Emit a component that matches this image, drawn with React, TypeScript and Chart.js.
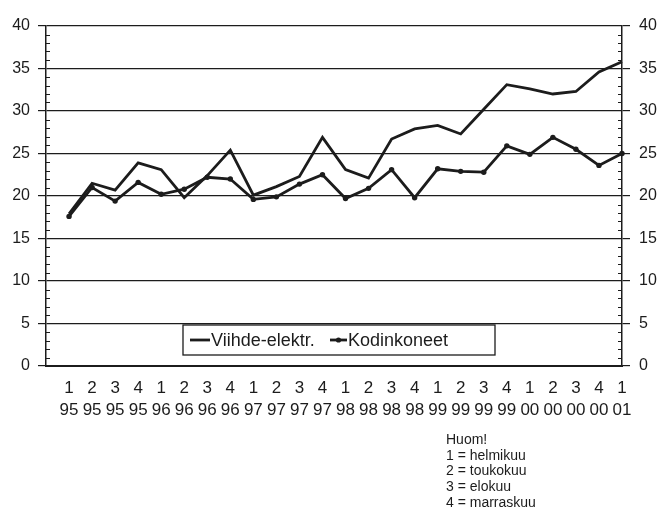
import React, { useEffect, useRef } from "react";
import { Chart, registerables } from "chart.js";

Chart.register(...registerables);

const quarters = ["1", "2", "3", "4", "1", "2", "3", "4", "1", "2", "3", "4", "1", "2", "3", "4", "1", "2", "3", "4", "1", "2", "3", "4", "1"];
const years = ["95", "95", "95", "95", "96", "96", "96", "96", "97", "97", "97", "97", "98", "98", "98", "98", "99", "99", "99", "99", "00", "00", "00", "00", "01"];

const viihde = [17.9, 21.5, 20.7, 23.9, 23.1, 19.8, 22.4, 25.4, 20.1, 21.1, 22.3, 26.9, 23.1, 22.1, 26.7, 27.9, 28.3, 27.3, 30.2, 33.1, 32.6, 32.0, 32.3, 34.6, 35.8];
const kodinkoneet = [17.6, 21.0, 19.4, 21.6, 20.2, 20.8, 22.2, 22.0, 19.6, 19.9, 21.4, 22.5, 19.7, 20.9, 23.1, 19.8, 23.2, 22.9, 22.8, 25.9, 24.9, 26.9, 25.5, 23.6, 25.0];

const yTicks = [0, 5, 10, 15, 20, 25, 30, 35, 40];

const seriesNames = ["Viihde-elektr.", "Kodinkoneet"];
const noteLines = ["Huom!", "1 = helmikuu", "2 = toukokuu", "3 = elokuu", "4 = marraskuu"];

const FONT = "'Liberation Sans', Arial, sans-serif";
const INK = "#1c1c1c";

const minorTicks = {
  id: "minorTicks",
  afterDraw(chart: any) {
    const ctx = chart.ctx;
    const y = chart.scales.y;
    const area = chart.chartArea;
    ctx.save();
    ctx.strokeStyle = INK;
    ctx.lineWidth = 1;
    for (let v = y.min; v <= y.max; v += 1) {
      if (v % 5 === 0) continue;
      const py = Math.round(y.getPixelForValue(v)) + 0.5;
      ctx.beginPath();
      ctx.moveTo(area.left, py);
      ctx.lineTo(area.left + 4, py);
      ctx.moveTo(area.right - 4, py);
      ctx.lineTo(area.right, py);
      ctx.stroke();
    }
    ctx.restore();
  },
};

const boxLegend = {
  id: "boxLegend",
  afterDatasetsDraw(chart: any) {
    const ctx = chart.ctx;
    const area = chart.chartArea;
    const x0 = area.left + 137;
    const y0 = area.top + 299;
    const w = 312;
    const h = 30;
    const cy = y0 + h / 2;
    ctx.save();
    ctx.fillStyle = "#ffffff";
    ctx.fillRect(x0, y0, w, h);
    ctx.strokeStyle = INK;
    ctx.lineWidth = 1.3;
    ctx.strokeRect(x0, y0, w, h);
    ctx.font = `18px ${FONT}`;
    ctx.fillStyle = INK;
    ctx.textBaseline = "middle";
    ctx.textAlign = "left";
    const ds = chart.data.datasets;
    ctx.strokeStyle = ds[0].borderColor;
    ctx.lineWidth = 2.8;
    ctx.beginPath();
    ctx.moveTo(x0 + 7, cy);
    ctx.lineTo(x0 + 27, cy);
    ctx.stroke();
    ctx.fillText(ds[0].label, x0 + 28, cy + 1);
    const x2 = x0 + 147;
    ctx.strokeStyle = ds[1].borderColor;
    ctx.beginPath();
    ctx.moveTo(x2, cy);
    ctx.lineTo(x2 + 17, cy);
    ctx.stroke();
    ctx.beginPath();
    ctx.fillStyle = ds[1].pointBackgroundColor;
    ctx.arc(x2 + 8.5, cy, 2.6, 0, Math.PI * 2);
    ctx.fill();
    ctx.fillStyle = INK;
    ctx.fillText(ds[1].label, x2 + 18, cy + 1);
    ctx.restore();
  },
};

export default function App() {
  const ref = useRef<HTMLCanvasElement | null>(null);

  useEffect(() => {
    if (!ref.current) return;
    const labels = [["", ""], ...quarters.map((q, i) => [q, years[i]])];
    const chart = new Chart(ref.current, {
      type: "line",
      data: {
        labels,
        datasets: [
          {
            label: seriesNames[0],
            data: [null, ...viihde],
            borderColor: INK,
            borderWidth: 2.8,
            pointRadius: 0,
            tension: 0,
            fill: false,
          },
          {
            label: seriesNames[1],
            data: [null, ...kodinkoneet],
            borderColor: INK,
            borderWidth: 2.8,
            pointRadius: 2.7,
            pointBackgroundColor: INK,
            pointBorderWidth: 0,
            tension: 0,
            fill: false,
          },
        ] as any,
      },
      options: {
        responsive: false,
        maintainAspectRatio: false,
        animation: false,
        layout: { padding: { top: 26, left: 0, right: 0, bottom: 0 } },
        plugins: { legend: { display: false }, tooltip: { enabled: false } },
        scales: {
          x: {
            type: "category",
            offset: false,
            grid: { display: false, drawTicks: false },
            border: { display: true, color: INK, width: 2 },
            ticks: {
              autoSkip: false,
              maxRotation: 0,
              minRotation: 0,
              padding: 12,
              color: INK,
              font: { family: FONT, size: 17, lineHeight: 1.25 },
            },
            afterFit(scale: any) {
              scale.height = 143;
            },
          },
          y: {
            position: "left",
            min: 0,
            max: 40,
            afterBuildTicks(scale: any) {
              scale.ticks = yTicks.map((v) => ({ value: v }));
            },
            grid: { color: INK, lineWidth: 1.2, tickLength: 8, drawTicks: true },
            border: { display: true, color: INK, width: 1.5 },
            ticks: { padding: 8, color: INK, font: { family: FONT, size: 16 } },
            afterFit(scale: any) {
              scale.width = 46;
            },
          },
          y2: {
            position: "right",
            min: 0,
            max: 40,
            afterBuildTicks(scale: any) {
              scale.ticks = yTicks.map((v) => ({ value: v }));
            },
            grid: { drawOnChartArea: false, color: INK, lineWidth: 1.2, tickLength: 8, drawTicks: true },
            border: { display: true, color: INK, width: 1.5 },
            ticks: { padding: 9, color: INK, font: { family: FONT, size: 16 } },
            afterFit(scale: any) {
              scale.width = 37;
            },
          },
        },
      } as any,
      plugins: [minorTicks, boxLegend],
    });
    return () => chart.destroy();
  }, []);

  return (
    <div style={{ position: "absolute", left: 0, top: 0, width: 659, height: 509, background: "#fff", overflow: "hidden" }}>
      <canvas ref={ref} width={659} height={509} style={{ display: "block" }} />
      <div
        style={{
          position: "absolute",
          left: 446,
          top: 432,
          fontFamily: FONT,
          fontSize: 14,
          lineHeight: "15.7px",
          color: INK,
          whiteSpace: "pre",
        }}
      >
        {noteLines.map((l) => (
          <div key={l}>{l}</div>
        ))}
      </div>
    </div>
  );
}
